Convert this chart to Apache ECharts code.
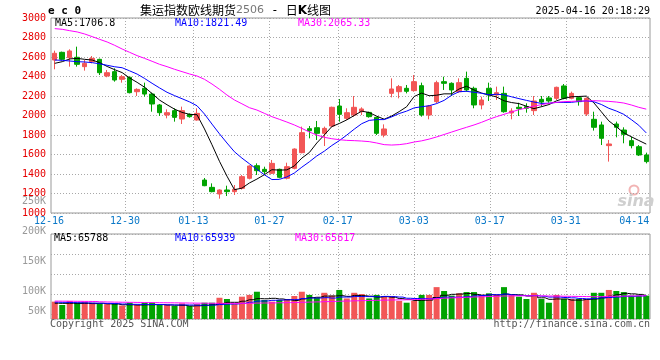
<!DOCTYPE html>
<html><head><meta charset="utf-8">
<script src="https://cdn.jsdelivr.net/npm/echarts@6/dist/echarts.min.js"></script>
<style>html,body{margin:0;padding:0;background:#fff}#c{width:660px;height:360px}</style>
</head><body><div id="c"></div>
<script>
const dates = [
'12-16','12-17','12-18','12-19','12-20','12-23','12-24','12-25','12-26','12-27',
'12-30','12-31','01-02','01-03','01-06','01-07','01-08','01-09','01-10','01-13',
'01-14','01-15','01-16','01-17','01-20','01-21','01-22','01-23','01-24','01-27',
'02-05','02-06','02-07','02-10','02-11','02-12','02-13','02-14','02-17','02-18',
'02-19','02-20','02-21','02-24','02-25','02-26','02-27','02-28','03-03','03-04',
'03-05','03-06','03-07','03-10','03-11','03-12','03-13','03-14','03-17','03-18',
'03-19','03-20','03-21','03-24','03-25','03-26','03-27','03-28','03-31','04-01',
'04-02','04-03','04-07','04-08','04-09','04-10','04-11','04-14','04-15','04-16'];
const open = [
2569,2648,2593,2597,2501,2552,2576,2405,2450,2371,
2392,2244,2279,2220,2108,2005,2050,1964,2012,1954,
1338,1263,1195,1236,1219,1253,1356,1485,1448,1407,
1448,1356,1458,1619,1865,1875,1817,1892,2097,1971,
2005,2039,2032,1981,1800,2227,2244,2279,2255,2306,
2005,2142,2347,2330,2244,2381,2279,2108,2279,2210,
2227,2026,2084,2091,2050,2166,2180,2176,2303,2176,
2183,2015,1961,1903,1691,1913,1851,1742,1680,1595];
const close = [
2638,2576,2662,2525,2535,2586,2439,2439,2364,2398,
2234,2268,2220,2118,2029,2029,1981,2050,1988,2022,
1280,1219,1236,1219,1243,1373,1482,1434,1424,1509,
1366,1475,1656,1824,1844,1817,1868,2084,2012,2029,
2084,2067,1988,1817,1862,2272,2296,2248,2347,2005,
2097,2337,2330,2262,2337,2262,2108,2159,2210,2234,
2039,2046,2070,2074,2149,2138,2149,2289,2176,2227,
2142,2176,1879,1766,1708,1879,1807,1691,1595,1527];
const low = [
2474,2566,2501,2501,2460,2535,2415,2392,2347,2337,
2227,2200,2193,2039,1995,1971,1937,1913,1978,1947,
1275,1212,1147,1174,1185,1240,1345,1390,1390,1400,
1356,1345,1448,1612,1766,1749,1687,1879,1937,1954,
1988,2005,1978,1800,1776,2186,2176,2227,2244,1988,
1961,2125,2262,2200,2234,2244,2074,2063,2149,2159,
2029,1961,1995,2029,2005,2091,2132,2159,2166,2166,
2101,1995,1845,1697,1527,1776,1715,1663,1585,1509];
const high = [
2665,2655,2679,2706,2569,2610,2583,2467,2484,2415,
2398,2279,2337,2234,2118,2063,2074,2091,2022,2074,
1359,1304,1243,1280,1287,1390,1489,1509,1475,1544,
1455,1516,1663,1886,1892,1944,1886,2091,2169,2074,
2200,2084,2039,1988,1909,2381,2313,2313,2415,2337,
2108,2357,2398,2340,2381,2450,2296,2193,2337,2296,
2296,2074,2131,2125,2200,2200,2200,2296,2323,2245,
2193,2186,2039,1937,1749,1937,1879,1783,1697,1619];
const ma5 = [
2535,2552,2580,2586,2576,2569,2542,2503,2470,2440,
2385,2340,2290,2225,2158,2110,2065,2032,2012,2008,
1862,1700,1530,1378,1239,1255,1308,1348,1393,1444,
1440,1442,1483,1563,1620,1718,1800,1886,1918,1955,
2000,2045,2030,1993,1962,1995,2040,2090,2195,2230,
2203,2208,2222,2222,2272,2300,2261,2230,2211,2190,
2151,2133,2122,2095,2070,2090,2112,2150,2175,2192,
2195,2199,2130,2038,1945,1885,1822,1782,1744,1706.8];
const ma10 = [
2569,2566,2559,2552,2549,2542,2530,2515,2500,2490,
2458,2425,2380,2330,2283,2238,2204,2172,2140,2100,
2015,1912,1812,1718,1628,1563,1505,1448,1392,1343,
1345,1370,1410,1470,1525,1585,1634,1692,1742,1799,
1860,1916,1950,1958,1958,1986,2020,2045,2078,2090,
2100,2122,2155,2208,2244,2248,2238,2228,2212,2218,
2212,2192,2173,2155,2138,2124,2126,2134,2134,2135,
2144,2150,2141,2113,2074,2046,2012,1958,1900,1821.49];
const ma30 = [
2891,2884,2870,2857,2836,2809,2781,2754,2720,2682,
2648,2614,2586,2556,2525,2501,2474,2450,2426,2405,
2371,2323,2269,2210,2159,2120,2080,2056,2022,1988,
1961,1933,1903,1868,1831,1800,1776,1762,1752,1745,
1742,1738,1732,1718,1701,1697,1701,1711,1728,1740,
1758,1780,1805,1830,1855,1879,1903,1930,1961,1988,
2012,2036,2060,2077,2097,2111,2125,2135,2142,2145,
2149,2149,2152,2149,2145,2138,2128,2108,2084,2065.33];
const volume = [
49000,39500,51000,46000,49000,46000,44000,42000,44000,38000,
46000,39500,46000,46000,39500,39500,36700,44000,36700,42000,
46000,46000,60000,56500,42000,63000,68000,77000,53600,49000,
53600,56500,65000,77000,68000,60000,74000,66000,82000,58000,
74000,70600,58000,68000,65000,65000,51000,46000,51000,68000,
68000,90000,79000,66000,72500,76000,76000,68000,72500,68000,
90000,68000,63000,56500,74000,56500,46000,68000,56500,56500,
56500,56500,74000,74000,82000,79000,76000,66000,66000,66000];
const volMa5 = [
44500,44200,44400,44000,44100,43500,44400,42700,42300,40200,
40200,39400,40100,40500,40800,39600,39000,38600,36900,37400,
38600,40300,43300,47100,47100,50300,54400,57600,57100,58400,
56600,54400,52200,56600,60200,61400,64700,64900,65800,63900,
66600,65900,64400,61800,63100,61400,57700,55500,52300,52800,
53400,60700,66900,69700,70600,72100,69500,67400,68600,67800,
70400,68900,68000,65000,66100,59800,55600,56600,56600,53300,
53300,55300,56400,59700,64500,68700,72400,70900,69400,65788];
const volMa10 = [
47500,47000,46500,46000,45500,45000,44500,44000,43500,42200,
41500,41300,41200,41000,40800,40000,39600,39800,39500,39100,
39000,39400,40800,42000,42400,44400,47400,50600,51000,52700,
53300,54200,54800,57900,59200,59100,60300,59100,62000,62000,
63700,63400,63200,62800,63800,63200,61900,58600,57900,58000,
57400,59200,61800,61600,61600,63000,65300,66300,68500,68600,
70400,68100,66600,65800,66100,64200,61900,61900,60700,59700,
58000,57000,58200,59800,60600,62100,64100,64000,64900,65939];
const volMa30 = [
50500,50300,50100,49900,49700,49500,48500,48000,47600,47300,
47000,46800,46500,46300,46000,45800,45600,45300,45000,44700,
44500,44300,44200,44100,44000,44200,44500,45000,45200,45500,
45800,46200,46600,47200,47800,48300,49000,49600,50300,50800,
51400,52000,52400,52900,53300,53800,54100,54300,55000,55800,
56600,57800,59000,59800,60600,61500,62300,62900,63600,64200,
65000,65400,65600,65500,65600,65300,64800,64600,64200,63900,
63600,63200,63000,63300,63800,64300,64800,65100,65400,65617];
const labelDates = ['12-16','12-30','01-13','01-27','02-17','03-03','03-17','03-31','04-14'];
const gridDates = ['12-30','01-13','01-27','02-17','03-03','03-17','03-31'];
const volTickLabels = ['50K','','100K','','','150K','','','200K','','','250K'];
const titleCn = '集运指数欧线期货';
const contractCode = '2506';
const stamp = '2025-04-16 20:18:29';

const MONO = '"DejaVu Sans Mono", monospace';
const RED = '#f25656', GREEN = '#00a300';
const GL = {type:[1,2], color:'#a8a8a8', width:1};
const last = a => a[a.length - 1];

const candleData = dates.map((d, i) => [open[i], close[i], low[i], high[i]]);
const volData = volume.map((v, i) => ({value: v, itemStyle: {color: close[i] >= open[i] ? RED : GREEN}}));

function txt(x, y, text, fill, opts) {
  const st = Object.assign({text:text, fill:fill, fontSize:10, fontFamily:MONO, verticalAlign:'middle', align:'left'}, opts || {});
  return {type:'text', x:x, y:y, silent:true, style:st};
}

const chart = echarts.init(document.getElementById('c'), null, {renderer:'canvas', width:660, height:360});
chart.setOption({
  animation: false,
  backgroundColor: '#fff',
  grid: [
    {left:51, right:10, top:18, height:195, show:true, borderColor:'#999', borderWidth:1},
    {left:51, right:10, top:234, height:85, show:true, borderColor:'#999', borderWidth:1},
    {left:49, right:10.6, top:18, height:195},
    {left:49, right:10.6, top:234, height:85},
    {left:51, width:10, top:196, height:120}
  ],
  xAxis: [
    {gridIndex:0, type:'category', data:dates, boundaryGap:true, show:false},
    {gridIndex:1, type:'category', data:dates, boundaryGap:true, show:false},
    {gridIndex:2, type:'category', data:dates, boundaryGap:false,
      axisLine:{show:false}, axisTick:{show:false},
      axisLabel:{interval:(i, v) => labelDates.includes(v), color:'#0a78c8', fontSize:10, fontFamily:MONO, margin:3},
      splitLine:{show:true, interval:(i, v) => gridDates.includes(v), lineStyle:GL}},
    {gridIndex:3, type:'category', data:dates, boundaryGap:false,
      axisLine:{show:false}, axisTick:{show:false}, axisLabel:{show:false},
      splitLine:{show:true, interval:(i, v) => gridDates.includes(v), lineStyle:GL}},
    {gridIndex:4, type:'value', show:false}
  ],
  yAxis: [
    {gridIndex:0, type:'value', min:1000, max:3000, interval:200,
      axisLine:{show:false}, axisTick:{show:false},
      axisLabel:{color:'#e60000', fontSize:10, fontFamily:MONO, margin:5, padding:[0,0,4,0], formatter: v => String(v)},
      splitLine:{show:true, lineStyle:GL}},
    {gridIndex:1, type:'value', min:0, max:240000, show:false},
    {gridIndex:1, type:'value', inverse:true, min:0, max:4.25, interval:1,
      axisLine:{show:false}, axisTick:{show:false}, axisLabel:{show:false},
      splitLine:{show:true, lineStyle:GL}},
    {gridIndex:2, type:'value', show:false},
    {gridIndex:3, type:'value', show:false},
    {gridIndex:4, type:'category', data:volTickLabels,
      axisLine:{show:false}, axisTick:{show:false},
      axisLabel:{interval:0, color:'#999', fontSize:10, fontFamily:MONO, margin:5}}
  ],
  series: [
    {type:'candlestick', xAxisIndex:0, yAxisIndex:0, data:candleData, barWidth:5, silent:true,
      itemStyle:{color:RED, color0:GREEN, borderColor:RED, borderColor0:GREEN, borderWidth:1}},
    {type:'line', xAxisIndex:0, yAxisIndex:0, data:ma5, symbol:'none', silent:true, z:3, lineStyle:{color:'#000', width:1}},
    {type:'line', xAxisIndex:0, yAxisIndex:0, data:ma10, symbol:'none', silent:true, z:3, lineStyle:{color:'#0000ff', width:1}},
    {type:'line', xAxisIndex:0, yAxisIndex:0, data:ma30, symbol:'none', silent:true, z:3, lineStyle:{color:'#ff00ff', width:1}},
    {type:'bar', xAxisIndex:1, yAxisIndex:1, data:volData, barWidth:6, silent:true},
    {type:'line', xAxisIndex:1, yAxisIndex:1, data:volMa5, step:'middle', symbol:'none', silent:true, z:3, lineStyle:{color:'#000', width:1}},
    {type:'line', xAxisIndex:1, yAxisIndex:1, data:volMa10, step:'middle', symbol:'none', silent:true, z:3, lineStyle:{color:'#0000ff', width:1}},
    {type:'line', xAxisIndex:1, yAxisIndex:1, data:volMa30, step:'middle', symbol:'none', silent:true, z:3, lineStyle:{color:'#ff00ff', width:1}}
  ],
  graphic: [
    txt(48, 11.5, 'e c 0', '#000', {fontSize:11, fontWeight:'bold'}),
    {type:'text', x:140, y:10.5, silent:true, style:{
      text:'{a|' + titleCn + '}{b|' + contractCode + '}{s| - }{a|日}{k|K}{a|线图}', verticalAlign:'middle',
      rich:{
        a:{fontSize:12, fontFamily:'"Noto Sans CJK SC"', fill:'#000'},
        b:{fontSize:11, fontFamily:'"DejaVu Sans"', fill:'#777'},
        s:{fontSize:12, fontFamily:MONO, fill:'#000'},
        k:{fontSize:12, fontWeight:'bold', fontFamily:'"DejaVu Sans"', fill:'#000'}
      }}},
    txt(650, 11.5, stamp, '#000', {align:'right'}),
    txt(55, 23.5, 'MA5:' + last(ma5), '#000'),
    txt(175, 23.5, 'MA10:' + last(ma10), '#0000ff'),
    txt(298, 23.5, 'MA30:' + last(ma30), '#ff00ff'),
    txt(54, 238, 'MA5:' + last(volMa5), '#000'),
    txt(175, 238, 'MA10:' + last(volMa10), '#0000ff'),
    txt(295, 238, 'MA30:' + last(volMa30), '#ff00ff'),
    txt(50, 324, 'Copyright 2025 SINA.COM', '#555'),
    txt(650, 324, 'http://finance.sina.com.cn', '#555', {align:'right'}),
    {type:'circle', silent:true, shape:{cx:634, cy:190, r:4.5}, style:{fill:'none', stroke:'#f2b4b4', lineWidth:2}},
    {type:'text', x:636, y:202, silent:true, style:{text:'sina', fill:'#cfcfcf', fontSize:16, fontStyle:'italic', fontWeight:'bold', fontFamily:'"DejaVu Sans"', align:'center', verticalAlign:'middle'}}
  ]
});
</script>
</body></html>
